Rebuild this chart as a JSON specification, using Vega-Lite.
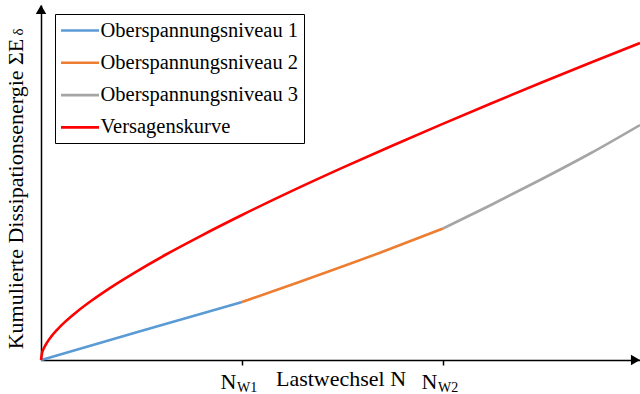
{
  "$schema": "https://vega.github.io/schema/vega-lite/v6.json",
  "width": 599,
  "height": 355,
  "autosize": {"type": "none"},
  "padding": {"left": 41, "top": 5, "right": 0, "bottom": 34},
  "background": "white",
  "config": {"view": {"stroke": null}, "font": "Liberation Serif"},
  "datasets": {
    "curves": [
      {"series": "Oberspannungsniveau 1", "N": 0, "E": 0},
      {"series": "Oberspannungsniveau 1", "N": 100, "E": 29},
      {"series": "Oberspannungsniveau 1", "N": 201, "E": 58},
      {"series": "Oberspannungsniveau 2", "N": 201, "E": 58},
      {"series": "Oberspannungsniveau 2", "N": 259, "E": 78.3},
      {"series": "Oberspannungsniveau 2", "N": 339, "E": 107.3},
      {"series": "Oberspannungsniveau 2", "N": 402, "E": 131.5},
      {"series": "Oberspannungsniveau 3", "N": 402, "E": 131.5},
      {"series": "Oberspannungsniveau 3", "N": 450, "E": 155},
      {"series": "Oberspannungsniveau 3", "N": 500, "E": 180.5},
      {"series": "Oberspannungsniveau 3", "N": 550, "E": 207},
      {"series": "Oberspannungsniveau 3", "N": 599, "E": 235},
      {"series": "Versagenskurve", "N": 0, "E": 0},
      {"series": "Versagenskurve", "N": 1, "E": 6.7},
      {"series": "Versagenskurve", "N": 3, "E": 12},
      {"series": "Versagenskurve", "N": 6, "E": 17.4},
      {"series": "Versagenskurve", "N": 10, "E": 23.1},
      {"series": "Versagenskurve", "N": 16, "E": 30.1},
      {"series": "Versagenskurve", "N": 24, "E": 38.1},
      {"series": "Versagenskurve", "N": 35, "E": 47.6},
      {"series": "Versagenskurve", "N": 50, "E": 59},
      {"series": "Versagenskurve", "N": 70, "E": 72.7},
      {"series": "Versagenskurve", "N": 95, "E": 88.2},
      {"series": "Versagenskurve", "N": 125, "E": 105.5},
      {"series": "Versagenskurve", "N": 160, "E": 124.2},
      {"series": "Versagenskurve", "N": 200, "E": 144.5},
      {"series": "Versagenskurve", "N": 250, "E": 168.6},
      {"series": "Versagenskurve", "N": 300, "E": 191.6},
      {"series": "Versagenskurve", "N": 350, "E": 213.8},
      {"series": "Versagenskurve", "N": 400, "E": 235.4},
      {"series": "Versagenskurve", "N": 450, "E": 256.5},
      {"series": "Versagenskurve", "N": 500, "E": 277.2},
      {"series": "Versagenskurve", "N": 550, "E": 297.5},
      {"series": "Versagenskurve", "N": 599, "E": 317}
    ],
    "wechsel": [
      {"N": 201, "lab": "N", "sub": "W1"},
      {"N": 402, "lab": "N", "sub": "W2"}
    ]
  },
  "layer": [
    {
      "data": {"name": "curves"},
      "mark": {"type": "line", "strokeWidth": 2.6, "interpolate": "monotone"},
      "encoding": {
        "x": {
          "field": "N", "type": "quantitative",
          "scale": {"domain": [0, 599], "nice": false, "zero": false},
          "axis": {
            "title": "Lastwechsel N", "values": [201, 402], "labels": false,
            "ticks": true, "tickSize": 5, "tickColor": "black", "tickWidth": 1.5,
            "grid": false, "domainColor": "black", "domainWidth": 1.5,
            "titleFont": "Liberation Serif", "titleFontSize": 22, "titleFontWeight": "normal",
            "titleColor": "black", "titlePadding": 3
          }
        },
        "y": {
          "field": "E", "type": "quantitative",
          "scale": {"domain": [0, 355], "nice": false},
          "axis": {
            "title": "Kumulierte Dissipationsenergie ΣE", "labels": false, "ticks": false,
            "grid": false, "domainColor": "black", "domainWidth": 1.5,
            "titleFont": "Liberation Serif", "titleFontSize": 22, "titleFontWeight": "normal",
            "titleColor": "black", "titlePadding": 14, "titleY": 188.5
          }
        },
        "color": {
          "field": "series", "type": "nominal",
          "scale": {
            "domain": ["Oberspannungsniveau 1", "Oberspannungsniveau 2", "Oberspannungsniveau 3", "Versagenskurve"],
            "range": ["#5B9BD5", "#ED7D31", "#A5A5A5", "#FF0000"]
          },
          "legend": {
            "title": null, "orient": "none", "legendX": 14, "legendY": 9,
            "strokeColor": "black", "fillColor": "white", "padding": 5, "titlePadding": 0,
            "symbolType": "M-1.9,0H1.9", "symbolSize": 400, "symbolStrokeWidth": 2.6,
            "symbolOffset": 8.5, "labelOffset": 9, "rowPadding": 10.3,
            "labelFont": "Liberation Serif", "labelFontSize": 20.5, "labelColor": "black",
            "labelLimit": 400
          }
        }
      }
    },
    {
      "data": {"values": [{}]},
      "mark": {"type": "point", "shape": "triangle-right", "filled": true, "color": "black", "size": 110, "opacity": 1},
      "encoding": {"x": {"datum": 594.5}, "y": {"datum": 0}}
    },
    {
      "data": {"values": [{}]},
      "mark": {"type": "point", "shape": "triangle-up", "filled": true, "color": "black", "size": 110, "opacity": 1},
      "encoding": {"x": {"datum": 0}, "y": {"datum": 350.5}}
    },
    {
      "data": {"name": "wechsel"},
      "mark": {"type": "text", "font": "Liberation Serif", "fontSize": 22, "align": "right", "baseline": "alphabetic", "dx": -5.5, "dy": 28.5, "color": "black"},
      "encoding": {"x": {"field": "N", "type": "quantitative"}, "y": {"datum": 0}, "text": {"field": "lab"}}
    },
    {
      "data": {"name": "wechsel"},
      "mark": {"type": "text", "font": "Liberation Serif", "fontSize": 14, "align": "left", "baseline": "alphabetic", "dx": -5, "dy": 32, "color": "black"},
      "encoding": {"x": {"field": "N", "type": "quantitative"}, "y": {"datum": 0}, "text": {"field": "sub"}}
    },
    {
      "data": {"values": [{"t": "δ"}]},
      "mark": {"type": "text", "font": "Liberation Serif", "fontSize": 15, "angle": 270, "align": "center", "baseline": "middle", "dy": -23, "color": "black"},
      "encoding": {"x": {"datum": 0}, "y": {"datum": 328}, "text": {"field": "t"}}
    }
  ]
}
